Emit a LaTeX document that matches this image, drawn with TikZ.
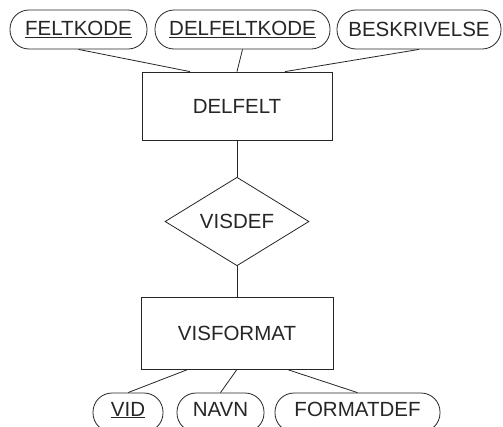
\documentclass[tikz,border=0pt]{standalone}
\usepackage{fontspec}
\setmainfont{Liberation Sans}
\usetikzlibrary{shapes.geometric,calc}
\definecolor{ink}{gray}{0.15}
\begin{document}
\begin{tikzpicture}[x=1pt,y=-1pt,
  every node/.style={font=\fontsize{20.5}{24}\selectfont, text=ink},
  attr/.style={draw=ink, line width=0.8pt, rectangle, rounded corners=19pt, minimum height=39pt, inner sep=0pt},
  entity/.style={draw=ink, line width=0.8pt, rectangle, inner sep=0pt},
  rel/.style={draw=ink, line width=0.8pt, diamond, inner sep=0pt, minimum width=144pt, minimum height=88pt},
  conn/.style={draw=ink, line width=0.8pt}]
\useasboundingbox (0,0) rectangle (503,426);
\clip (0,0) rectangle (503,426);
\fill[white] (0,0) rectangle (503,426);
\node[attr, minimum width=137pt] (fk) at (78.5,29.5) {\underline{FELTKODE}};
\node[attr, minimum width=175pt] (dfk) at (242.5,29.5) {\underline{DELFELTKODE}};
\node[attr, minimum width=164pt] (besk) at (419,29.5) {BESKRIVELSE};
\node[entity, minimum width=190pt, minimum height=68pt] (delfelt) at (237,106) {DELFELT};
\node[rel] (visdef) at (237,221.5) {VISDEF};
\node[entity, minimum width=192pt, minimum height=72pt] (visformat) at (237,333) {VISFORMAT};
\node[attr, minimum width=70pt, text depth=7pt] (vid) at (128,412.5) {\underline{VID}};
\node[attr, minimum width=87pt, text depth=7pt] (navn) at (220.5,412.5) {NAVN};
\node[attr, minimum width=165pt, text depth=7pt] (fmt) at (357.5,412.5) {FORMATDEF};
\draw[conn] (fk.south) -- ($(delfelt.north)+(-47,0)$);
\draw[conn] (dfk.south) -- (delfelt.north);
\draw[conn] (besk.south) -- ($(delfelt.north)+(48,0)$);
\draw[conn] (delfelt.south) -- (visdef.north);
\draw[conn] (visdef.south) -- (visformat.north);
\draw[conn] ($(visformat.south)+(-49,0)$) -- (vid.north);
\draw[conn] (visformat.south) -- (navn.north);
\draw[conn] ($(visformat.south)+(50,0)$) -- (fmt.north);
\end{tikzpicture}
\end{document}
